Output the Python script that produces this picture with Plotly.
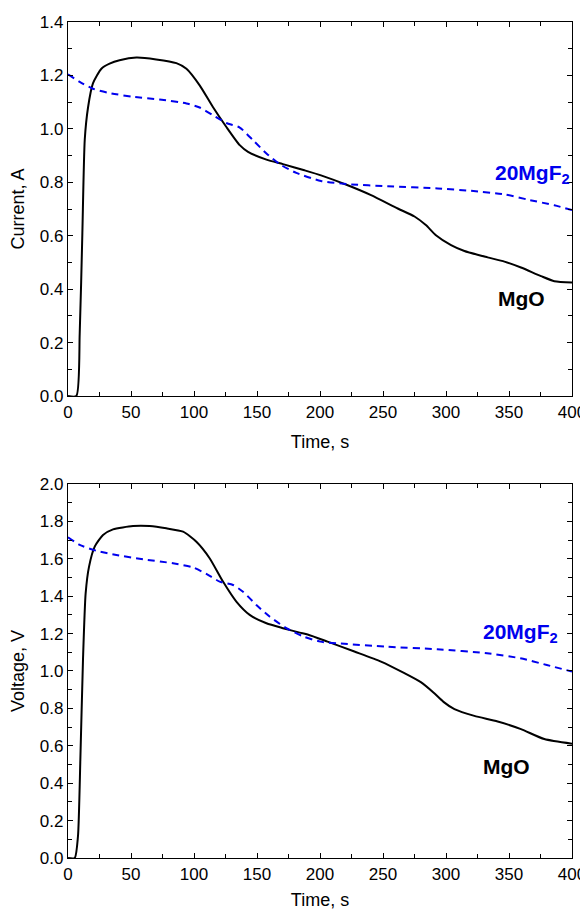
import plotly.graph_objects as go
from plotly.subplots import make_subplots

# Current vs time
t_mgo_i = [0, 6.6, 9.3, 11.4, 13.3, 15.9, 19.8, 26.5, 33, 40.9, 54.3, 70, 86, 94, 104.5, 115, 125.7, 136.3, 142.9, 157.5, 170.6, 187.6, 200.8, 222, 240.5, 261.7, 275, 284, 292, 304, 314.6, 333, 346.4, 359.5, 375.4, 386, 400]
i_mgo = [0, 0, 0.235, 0.61, 0.96, 1.08, 1.17, 1.225, 1.244, 1.257, 1.267, 1.26, 1.246, 1.225, 1.163, 1.082, 1.007, 0.939, 0.914, 0.885, 0.868, 0.845, 0.826, 0.789, 0.752, 0.702, 0.672, 0.64, 0.602, 0.565, 0.543, 0.519, 0.503, 0.481, 0.449, 0.43, 0.425]

t_mgf_i = [0, 9.3, 19.8, 33, 51.5, 72.7, 94, 104.5, 115, 125.7, 136.3, 146.9, 157.5, 168, 181.2, 200.8, 222, 253.7, 293.4, 320, 346.4, 365, 386, 400]
i_mgf = [1.204, 1.176, 1.15, 1.134, 1.12, 1.11, 1.095, 1.08, 1.051, 1.022, 1.005, 0.957, 0.908, 0.868, 0.835, 0.805, 0.793, 0.785, 0.777, 0.768, 0.755, 0.735, 0.714, 0.696]

# Voltage vs time
t_mgo_v = [0, 5.3, 7.9, 9.8, 11.9, 14, 16.7, 21.2, 27.8, 35.7, 51.6, 64.8, 78, 91.3, 101.9, 112.4, 123, 133.6, 144.2, 157.5, 170.6, 183.9, 190.2, 206, 227.3, 248.4, 267, 280, 290, 298, 306.7, 322.5, 341, 359.5, 378, 400]
v_mgo = [0, 0, 0.115, 0.525, 1.06, 1.415, 1.558, 1.665, 1.727, 1.757, 1.775, 1.775, 1.763, 1.745, 1.691, 1.603, 1.478, 1.371, 1.3, 1.255, 1.229, 1.205, 1.195, 1.157, 1.104, 1.05, 0.988, 0.94, 0.885, 0.835, 0.796, 0.76, 0.73, 0.689, 0.636, 0.611]

t_mgf_v = [0, 9.3, 22.5, 38.4, 59.5, 83.3, 99.2, 109.8, 120.4, 131, 138.9, 149.5, 160, 173.3, 187, 200.3, 213.5, 253.2, 293, 332.6, 359, 380, 400]
v_mgf = [1.715, 1.674, 1.643, 1.62, 1.597, 1.576, 1.554, 1.519, 1.478, 1.46, 1.424, 1.353, 1.291, 1.229, 1.184, 1.157, 1.148, 1.13, 1.116, 1.095, 1.068, 1.032, 0.997]

x_ticks = [0, 50, 100, 150, 200, 250, 300, 350, 400]
y1_ticks = [0.0, 0.2, 0.4, 0.6, 0.8, 1.0, 1.2, 1.4]
y2_ticks = [0.0, 0.2, 0.4, 0.6, 0.8, 1.0, 1.2, 1.4, 1.6, 1.8, 2.0]

FONT = "Liberation Sans, Arial, sans-serif"

fig = make_subplots(rows=2, cols=1, vertical_spacing=0.1)

solid = dict(color="black", width=2, shape="spline", smoothing=0.6)
dashed = dict(color="#0000ee", width=2, dash="7px,5px", shape="spline", smoothing=0.6)

fig.add_trace(go.Scatter(x=t_mgo_i, y=i_mgo, mode="lines", line=solid, showlegend=False), row=1, col=1)
fig.add_trace(go.Scatter(x=t_mgf_i, y=i_mgf, mode="lines", line=dashed, showlegend=False), row=1, col=1)
fig.add_trace(go.Scatter(x=t_mgo_v, y=v_mgo, mode="lines", line=solid, showlegend=False), row=2, col=1)
fig.add_trace(go.Scatter(x=t_mgf_v, y=v_mgf, mode="lines", line=dashed, showlegend=False), row=2, col=1)

axis_common = dict(
    showline=True, linecolor="black", linewidth=1.3, mirror="ticks",
    ticks="inside", ticklen=5, tickwidth=1.2, tickcolor="black",
    showgrid=False, zeroline=False, automargin=False,
    tickfont=dict(family=FONT, size=17, color="black"),
    minor=dict(ticks="inside", ticklen=4, tickwidth=1.2, tickcolor="black", showgrid=False),
)

fig.update_xaxes(range=[0, 400], tickvals=x_ticks, ticktext=[str(v) for v in x_ticks],
                 minor_dtick=25, minor_tick0=0,
                 title=dict(text="Time, s", font=dict(family=FONT, size=18, color="black"), standoff=14),
                 **axis_common)
fig.update_yaxes(range=[0, 1.4], tickvals=y1_ticks, ticktext=[f"{v:.1f}" for v in y1_ticks],
                 minor_dtick=0.1, minor_tick0=0,
                 title=dict(text="Current, A", font=dict(family=FONT, size=18, color="black"), standoff=10),
                 row=1, col=1, **axis_common)
fig.update_yaxes(range=[0, 2.0], tickvals=y2_ticks, ticktext=[f"{v:.1f}" for v in y2_ticks],
                 minor_dtick=0.1, minor_tick0=0,
                 title=dict(text="Voltage, V", font=dict(family=FONT, size=18, color="black"), standoff=10),
                 row=2, col=1, **axis_common)

fig.update_layout(
    width=580, height=902,
    margin=dict(l=60, r=16, t=14, b=52),
    paper_bgcolor="white", plot_bgcolor="white",
    font=dict(family=FONT, color="black"),
    yaxis=dict(domain=[0.5526, 1.0]),
    yaxis2=dict(domain=[0.0, 0.4474]),
)

ann_font_blue = dict(family=FONT, size=21, color="#0000ee")
ann_font_black = dict(family=FONT, size=21, color="black")
fig.add_annotation(x=337, y=0.83, xref="x", yref="y", text="<b>20MgF<sub>2</sub></b>",
                   showarrow=False, xanchor="left", yanchor="middle", font=ann_font_blue)
fig.add_annotation(x=340, y=0.365, xref="x", yref="y", text="<b>MgO</b>",
                   showarrow=False, xanchor="left", yanchor="middle", font=ann_font_black)
fig.add_annotation(x=327.5, y=1.205, xref="x2", yref="y2", text="<b>20MgF<sub>2</sub></b>",
                   showarrow=False, xanchor="left", yanchor="middle", font=ann_font_blue)
fig.add_annotation(x=327.5, y=0.49, xref="x2", yref="y2", text="<b>MgO</b>",
                   showarrow=False, xanchor="left", yanchor="middle", font=ann_font_black)

fig.write_html("out.html")
